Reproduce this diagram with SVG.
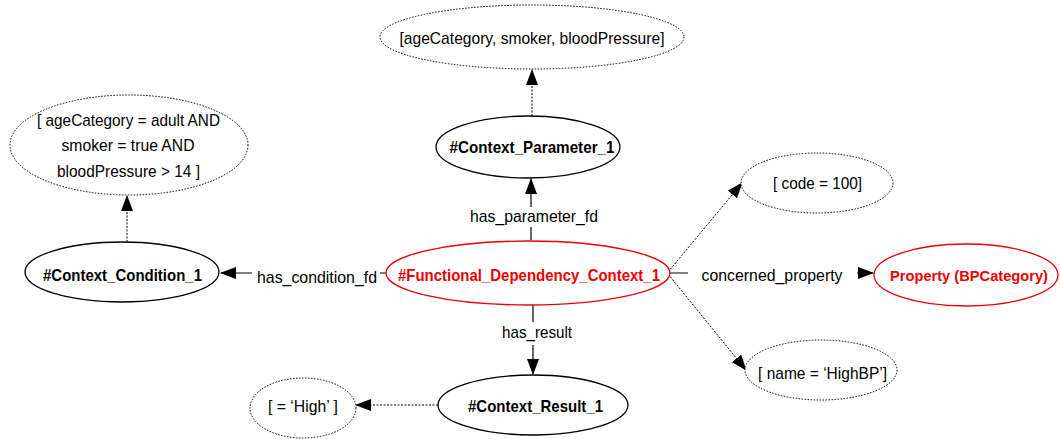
<svg xmlns="http://www.w3.org/2000/svg" width="1060" height="439" viewBox="0 0 1060 439">
<style>
.bg{fill:#fff}
.n{fill:#fff;stroke:#000;stroke-width:1.3}
.nr{fill:#fff;stroke:#e00;stroke-width:1.3}
.v{fill:#fff;stroke:#000;stroke-width:1;stroke-dasharray:1.5 1.5}
.t{font-family:"Liberation Sans",Arial,sans-serif;font-size:17px;fill:#000;text-anchor:middle}
.b{font-family:"Liberation Sans",Arial,sans-serif;font-size:17px;font-weight:bold;fill:#000;text-anchor:middle}
.r{fill:#e00}
.e{fill:none;stroke:#000;stroke-width:1.2}
.d{fill:none;stroke:#000;stroke-width:1;stroke-dasharray:2 1.5}
</style>
<defs>
<marker id="ah" markerWidth="16" markerHeight="12" refX="15" refY="6" orient="auto" markerUnits="userSpaceOnUse">
<path d="M0,0 L16,6 L0,12 Z" fill="#000"/>
</marker>
</defs>
<rect class="bg" x="0" y="0" width="1060" height="439"/>
<g id="connectors">
<path class="d" d="M532,116 V70" marker-end="url(#ah)"/>
<path class="d" d="M127,242 V196" marker-end="url(#ah)"/>
<path class="e" d="M531,240 V227 M531,207 V179" marker-end="url(#ah)"/>
<path class="e" d="M387,273 H380 M252,273 H221" marker-end="url(#ah)"/>
<path class="e" d="M533,305 V322 M533,345 V374" marker-end="url(#ah)"/>
<path class="e" d="M670,273 H688 M857,273 H873" marker-end="url(#ah)"/>
<path class="d" d="M668,272 L742,183" marker-end="url(#ah)"/>
<path class="d" d="M668,274 L746,370" marker-end="url(#ah)"/>
<path class="d" d="M438,405 H356" marker-end="url(#ah)"/>
<text class="t" x="534" y="222" textLength="128" lengthAdjust="spacingAndGlyphs">has_parameter_fd</text>
<text class="t" x="317" y="283" textLength="120" lengthAdjust="spacingAndGlyphs">has_condition_fd</text>
<text class="t" x="537" y="338" textLength="70" lengthAdjust="spacingAndGlyphs">has_result</text>
<text class="t" x="772" y="281" textLength="141" lengthAdjust="spacingAndGlyphs">concerned_property</text>
</g>
<g id="params">
<ellipse class="v" cx="532" cy="37" rx="152" ry="32"/>
<text class="t" x="532" y="44" textLength="265" lengthAdjust="spacingAndGlyphs">[ageCategory, smoker, bloodPressure]</text>
</g>
<g id="context_parameter">
<ellipse class="n" cx="528" cy="147" rx="92" ry="31"/>
<text class="b" x="532" y="153" textLength="165" lengthAdjust="spacingAndGlyphs">#Context_Parameter_1</text>
</g>
<g id="condition_expr">
<ellipse class="v" cx="129" cy="145" rx="119" ry="50"/>
<text class="t" x="128.5" y="126" textLength="183" lengthAdjust="spacingAndGlyphs">[ ageCategory = adult AND</text>
<text class="t" x="128" y="151" textLength="133" lengthAdjust="spacingAndGlyphs">smoker = true AND</text>
<text class="t" x="128.5" y="177" textLength="143" lengthAdjust="spacingAndGlyphs">bloodPressure &gt; 14 ]</text>
</g>
<g id="context_condition">
<ellipse class="n" cx="122" cy="272" rx="97" ry="30"/>
<text class="b" x="122.5" y="281" textLength="159" lengthAdjust="spacingAndGlyphs">#Context_Condition_1</text>
</g>
<g id="fd_context">
<ellipse class="nr" cx="528" cy="273" rx="142" ry="32"/>
<text class="b r" x="529" y="281" textLength="262" lengthAdjust="spacingAndGlyphs">#Functional_Dependency_Context_1</text>
</g>
<g id="context_result">
<ellipse class="n" cx="533" cy="405" rx="95" ry="30"/>
<text class="b" x="535.5" y="412" textLength="135" lengthAdjust="spacingAndGlyphs">#Context_Result_1</text>
</g>
<g id="high">
<ellipse class="v" cx="303" cy="408" rx="53" ry="30"/>
<text class="t" x="303" y="412" textLength="70" lengthAdjust="spacingAndGlyphs">[ = ‘High’ ]</text>
</g>
<g id="code">
<ellipse class="v" cx="817" cy="183" rx="76" ry="30"/>
<text class="t" x="817.5" y="189" textLength="89" lengthAdjust="spacingAndGlyphs">[ code = 100]</text>
</g>
<g id="property">
<ellipse class="nr" cx="966" cy="275" rx="92" ry="31"/>
<text class="b r" x="969" y="281" textLength="158" lengthAdjust="spacingAndGlyphs" style="font-size:15.5px">Property (BPCategory)</text>
</g>
<g id="name">
<ellipse class="v" cx="821" cy="370" rx="76" ry="30"/>
<text class="t" x="822.5" y="379" textLength="129" lengthAdjust="spacingAndGlyphs">[ name = ‘HighBP’]</text>
</g>
</svg>
